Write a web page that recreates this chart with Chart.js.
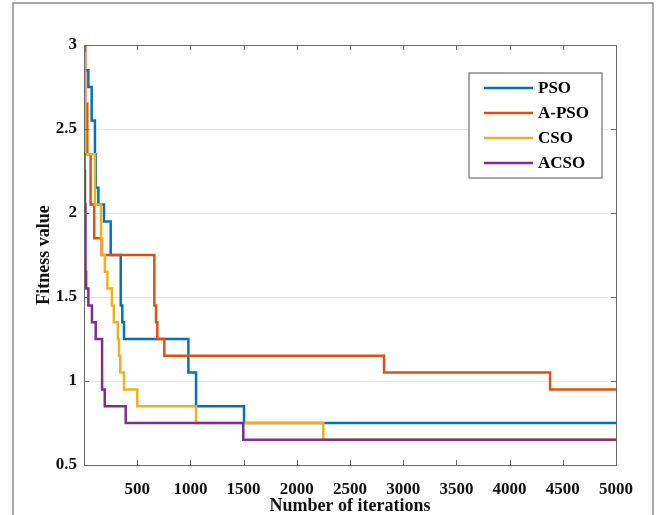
<!DOCTYPE html>
<html>
<head>
<meta charset="utf-8">
<script src="https://cdn.jsdelivr.net/npm/chart.js@4.4.1/dist/chart.umd.min.js"></script>
<style>
  body { margin: 0; background: #fff; }
  #wrap { width: 656px; height: 515px; }
</style>
</head>
<body>
<div id="wrap"><canvas id="myChart" width="656" height="515"></canvas></div>
<script>
// data (iteration where the value changes, new fitness value)
const psoIter  = [0, 41, 72, 103, 110, 135, 188, 251, 345, 360, 376, 981, 1053, 1504, 5000];
const psoFit   = [2.85, 2.75, 2.55, 2.35, 2.15, 2.05, 1.95, 1.75, 1.45, 1.35, 1.25, 1.05, 0.85, 0.75, 0.75];

const apsoIter = [0, 12, 31, 62, 96, 166, 661, 677, 689, 755, 2820, 4380, 5000];
const apsoFit  = [3.0, 2.65, 2.35, 2.05, 1.85, 1.75, 1.45, 1.35, 1.25, 1.15, 1.05, 0.95, 0.95];

const csoIter  = [0, 6, 12, 103, 160, 172, 197, 220, 262, 280, 318, 329, 341, 376, 501, 1053, 2249, 5000];
const csoFit   = [2.95, 2.65, 2.35, 2.05, 1.85, 1.75, 1.65, 1.55, 1.45, 1.35, 1.25, 1.15, 1.05, 0.95, 0.85, 0.75, 0.65, 0.65];

const acsoIter = [0, 5, 9, 14, 20, 41, 75, 110, 170, 195, 392, 1497, 5000];
const acsoFit  = [2.35, 2.25, 2.05, 1.65, 1.55, 1.45, 1.35, 1.25, 0.95, 0.85, 0.75, 0.65, 0.65];

const seriesNames = ["PSO", "A-PSO", "CSO", "ACSO"];
const seriesColors = ["#0072BD", "#D95319", "#EDB120", "#7E2F8E"];

const xTicks = [500, 1000, 1500, 2000, 2500, 3000, 3500, 4000, 4500, 5000];
const yTicks = [0.5, 1, 1.5, 2, 2.5, 3];

function pts(xs, ys) {
    return xs.map((x, i) => ({ x: x, y: ys[i] }));
}

const allData = [pts(psoIter, psoFit), pts(apsoIter, apsoFit), pts(csoIter, csoFit), pts(acsoIter, acsoFit)];

Chart.defaults.font.family = "'Liberation Serif', 'Times New Roman', serif";
Chart.defaults.font.weight = "bold";
Chart.defaults.color = "#111";

// matlab style box, inward ticks, outer frame and legend
const matlabBox = {
    id: "matlabBox",
    beforeDraw(chart) {
        const c = chart.ctx;
        c.save();
        c.fillStyle = "#fff";
        c.fillRect(0, 0, chart.width, chart.height);
        c.strokeStyle = "#8a8a8a";
        c.lineWidth = 1.5;
        c.strokeRect(13, 3, 640, 540);
        c.restore();
    },
    afterDatasetsDraw(chart) {
        const c = chart.ctx;
        const a = chart.chartArea;
        const sx = chart.scales.x, sy = chart.scales.y;
        c.save();
        c.strokeStyle = "#6a6a6a";
        c.lineWidth = 1;
        c.strokeRect(a.left + 0.5, a.top + 0.5, a.right - a.left, a.bottom - a.top);

        // ticks pointing inward
        c.beginPath();
        xTicks.forEach(v => {
            const px = Math.round(sx.getPixelForValue(v)) + 0.5;
            c.moveTo(px, a.bottom); c.lineTo(px, a.bottom - 5);
            c.moveTo(px, a.top); c.lineTo(px, a.top + 5);
        });
        yTicks.forEach(v => {
            const py = Math.round(sy.getPixelForValue(v)) + 0.5;
            c.moveTo(a.left, py); c.lineTo(a.left + 5, py);
            c.moveTo(a.right, py); c.lineTo(a.right - 5, py);
        });
        c.stroke();

        // legend
        const lx = 469, ly = 73, lw = 133, lh = 105;
        c.fillStyle = "#fff";
        c.fillRect(lx, ly, lw, lh);
        c.strokeStyle = "#7a7a7a";
        c.lineWidth = 1.3;
        c.strokeRect(lx, ly, lw, lh);
        c.font = "bold 17px 'Liberation Serif', serif";
        c.textBaseline = "middle";
        c.textAlign = "left";
        chart.data.datasets.forEach((ds, i) => {
            const yy = ly + 15 + i * 25;
            c.strokeStyle = ds.borderColor;
            c.lineWidth = 2.5;
            c.beginPath();
            c.moveTo(lx + 15, yy);
            c.lineTo(lx + 64, yy);
            c.stroke();
            c.fillStyle = "#000";
            c.fillText(ds.label, lx + 69, yy + 1);
        });
        c.restore();
    }
};

const ctx = document.getElementById("myChart");

new Chart(ctx, {
    type: "line",
    data: {
        datasets: seriesNames.map((name, i) => ({
            label: name,
            data: allData[i],
            borderColor: seriesColors[i],
            backgroundColor: seriesColors[i],
            borderWidth: 2.5,
            pointRadius: 0,
            stepped: "before",
            fill: false,
            order: 4 - i
        }))
    },
    options: {
        responsive: false,
        animation: false,
        layout: { padding: { left: 0, right: 40, top: 45, bottom: 0 } },
        plugins: {
            legend: { display: false },
            tooltip: { enabled: false }
        },
        scales: {
            x: {
                type: "linear",
                min: 0,
                max: 5000,
                afterFit(scale) { scale.height = 50; },
                afterBuildTicks(scale) { scale.ticks = xTicks.map(v => ({ value: v })); },
                ticks: {
                    font: { size: 17, weight: "bold" },
                    color: "#111",
                    padding: 14,
                    maxRotation: 0,
                    callback: v => String(v)
                },
                grid: { display: false, drawTicks: false },
                border: { display: false },
                title: {
                    display: true,
                    text: "Number of iterations",
                    font: { size: 18, weight: "bold", lineHeight: 1 },
                    color: "#111",
                    padding: { top: 0, bottom: 0 }
                }
            },
            y: {
                type: "linear",
                min: 0.5,
                max: 3,
                afterFit(scale) { scale.width = 84; },
                afterBuildTicks(scale) { scale.ticks = yTicks.map(v => ({ value: v })); },
                ticks: {
                    font: { size: 17, weight: "bold" },
                    color: "#111",
                    padding: 7,
                    callback: v => String(v)
                },
                grid: { color: "#e4e4e4", lineWidth: 1, drawTicks: false },
                border: { display: false },
                title: {
                    display: true,
                    text: "Fitness value",
                    font: { size: 18, weight: "bold", lineHeight: 1 },
                    color: "#111",
                    padding: { top: 35, bottom: 0 }
                }
            }
        }
    },
    plugins: [matlabBox]
});
</script>
</body>
</html>
